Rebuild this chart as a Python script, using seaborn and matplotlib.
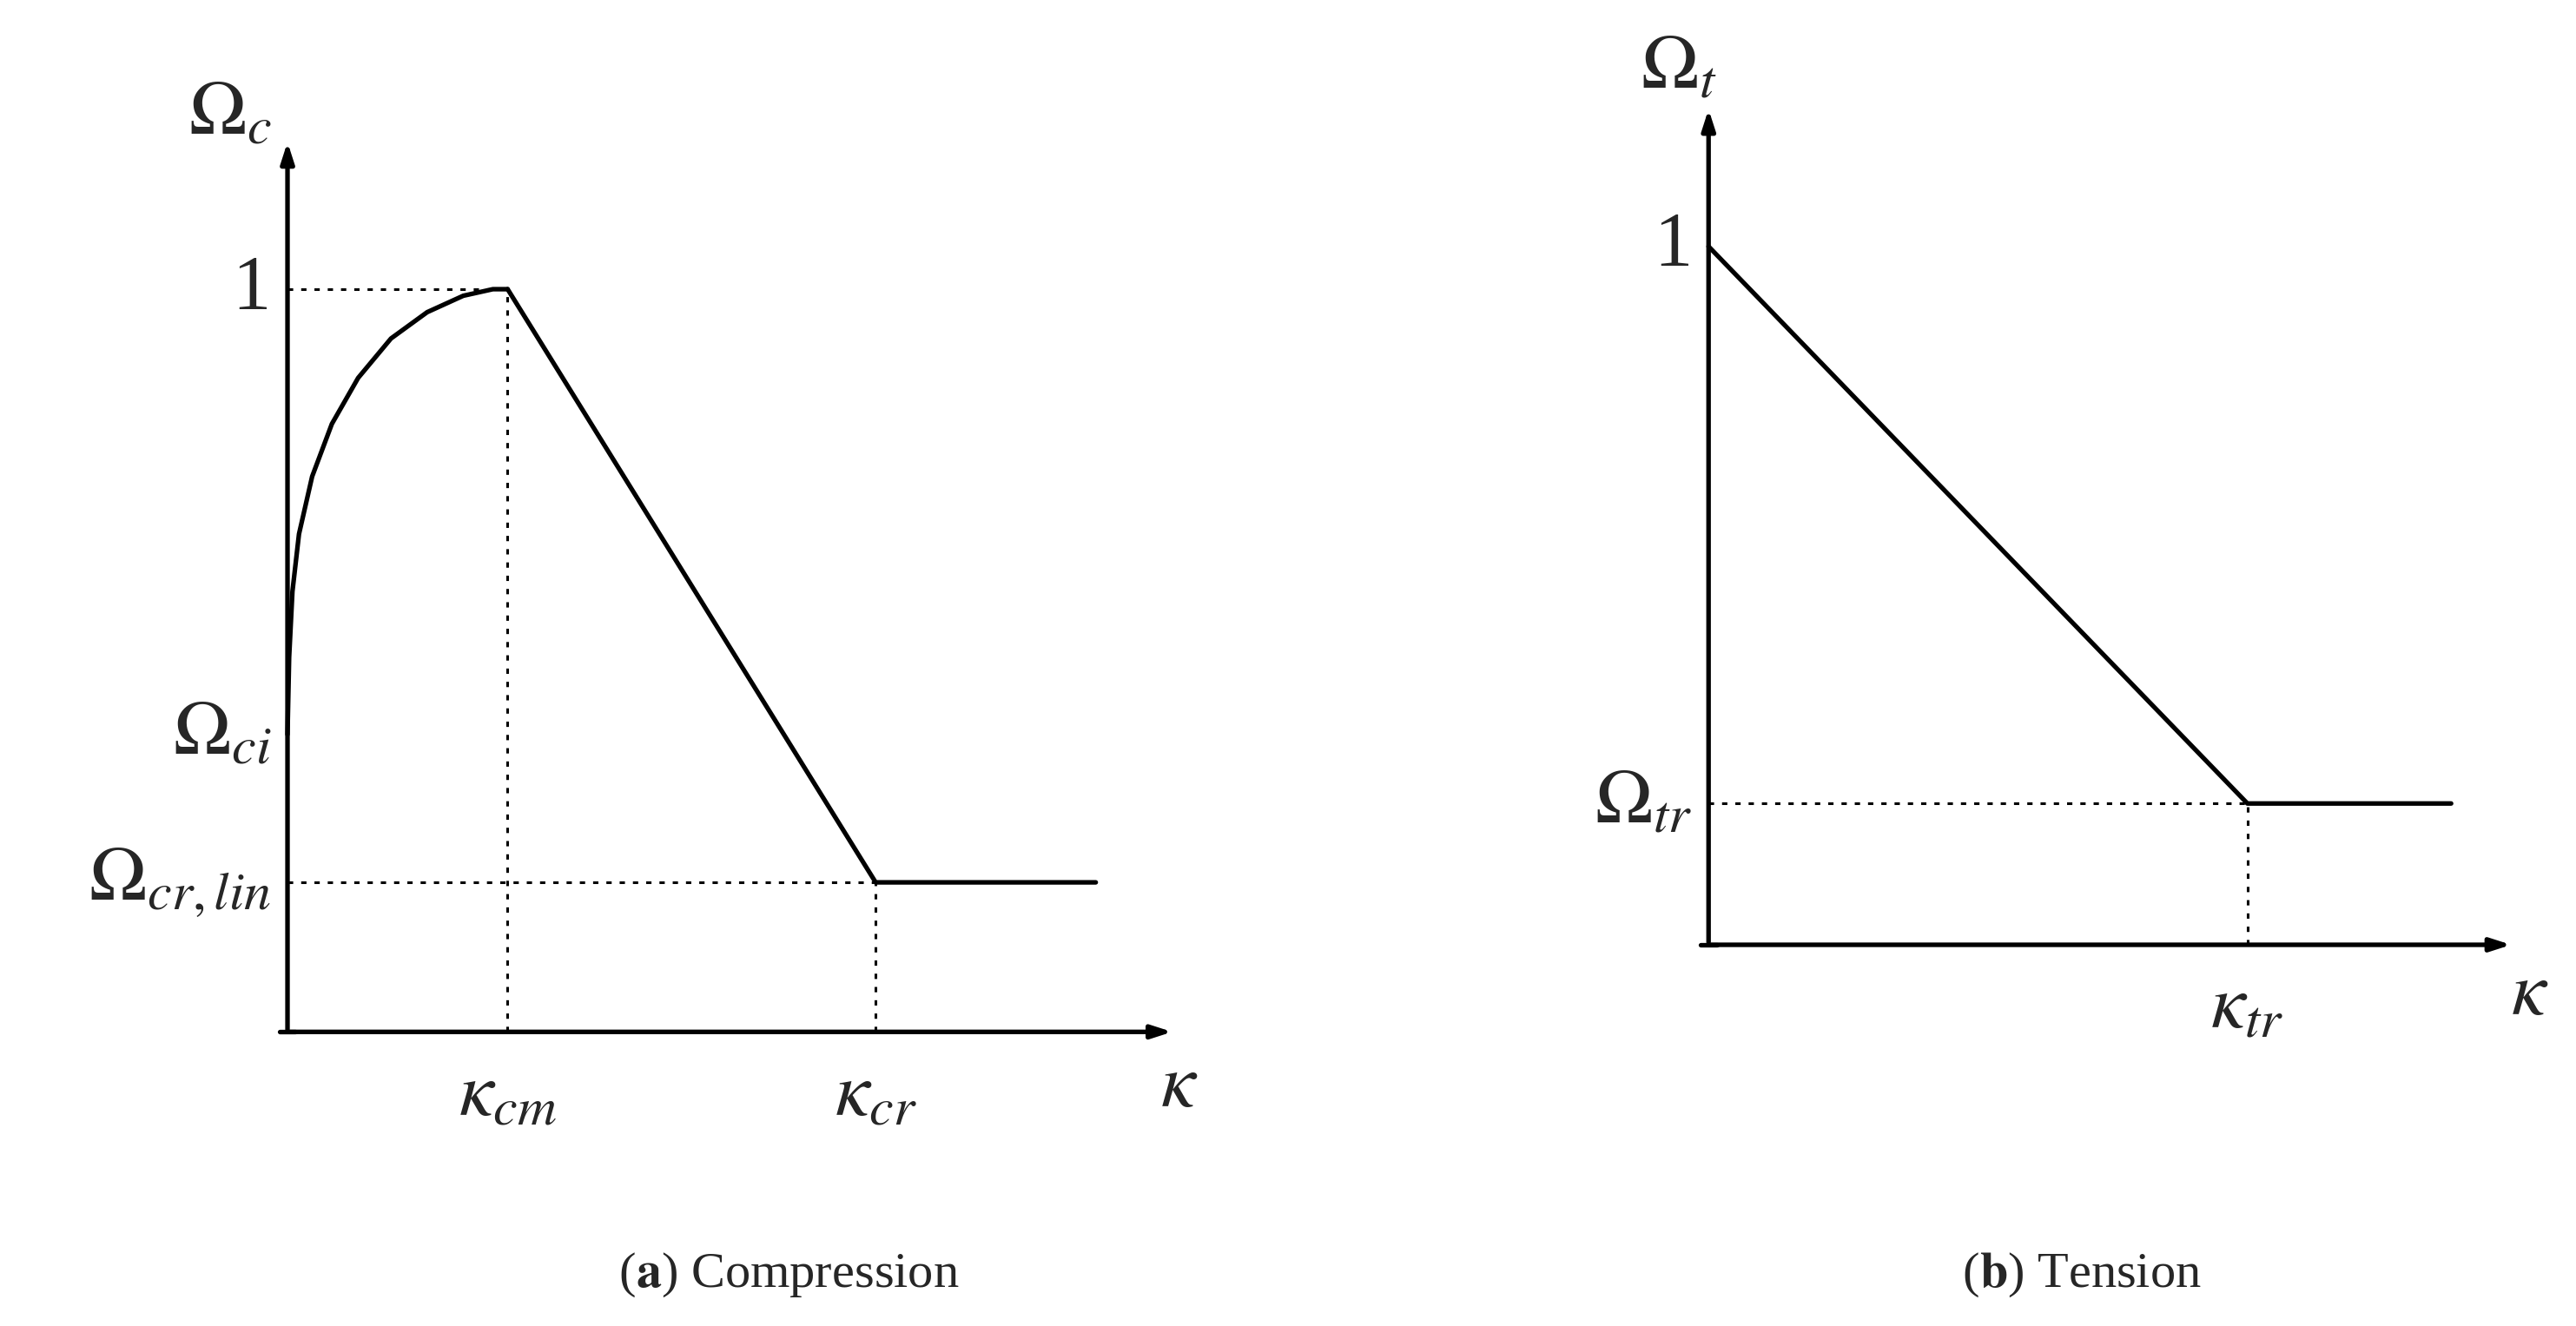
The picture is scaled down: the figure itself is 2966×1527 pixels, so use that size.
import matplotlib
matplotlib.use("Agg")
import matplotlib.pyplot as plt
import seaborn as sns

sns.set_style("white")
plt.rcParams["mathtext.fontset"] = "stix"
plt.rcParams["font.family"] = ["Liberation Serif", "DejaVu Serif"]

# coordinates in reference-image units (1568 x 807 canvas, y grows downward)
# --- panel a: compression ---
a_origin = (175, 628)
a_xend, a_ytop = 715, 85
a_curve_x = [175, 176, 178, 182, 190, 202, 218, 238, 260, 282, 300, 309]
a_curve_y = [447, 400, 360, 325, 290, 258, 230, 206, 190, 180, 176, 176]
a_line_x = [309, 533, 667]
a_line_y = [176, 537, 537]
a_levels = {"1": 176, r"$\Omega_{ci}$": 447, r"$\Omega_{cr,lin}$": 537}
a_kappas = {r"$\kappa_{cm}$": 309, r"$\kappa_{cr}$": 533}

# --- panel b: tension ---
b_origin = (1040, 575)
b_xend, b_ytop = 1530, 65
b_line_x = [1040, 1368, 1492]
b_line_y = [150, 489, 489]
b_levels = {"1": 150, r"$\Omega_{tr}$": 489}
b_kappas = {r"$\kappa_{tr}$": 1368}

fig = plt.figure(figsize=(29.66, 15.27), dpi=100)
ax = fig.add_axes([0, 0, 1, 1])
ax.set_xlim(0, 1568)
ax.set_ylim(807, 0)
ax.axis("off")

lw = 3.8
fs = 64


def axes_arrows(origin, xend, ytop):
    ox, oy = origin
    arr = dict(arrowstyle="-|>,head_length=1.4,head_width=0.45", color="black", lw=lw)
    ax.annotate("", xy=(xend, oy), xytext=(ox, oy), arrowprops=arr)
    ax.annotate("", xy=(ox, ytop), xytext=(ox, oy), arrowprops=arr)
    ax.plot([ox - 5, ox + 5], [oy, oy], color="black", lw=lw)


def guides(origin, levels, kappas, xs, ys):
    ox, oy = origin
    for lab, y in levels.items():
        ax.text(ox - 10, y, lab, ha="right", va="center", fontsize=fs)
    for lab, x in kappas.items():
        ax.text(x, oy + 18, lab, ha="center", va="top", fontsize=fs)
        ax.plot([x, x], [oy, ys[xs.index(x)]], ls=(0, (2, 3)), color="black", lw=2.2)
    for y in levels.values():
        xr = [x for x, yy in zip(xs, ys) if yy == y]
        if xr and xr[0] != ox:
            ax.plot([ox, xr[0]], [y, y], ls=(0, (2, 3)), color="black", lw=2.2)


axes_arrows(a_origin, a_xend, a_ytop)
sns.lineplot(x=a_curve_x, y=a_curve_y, ax=ax, color="black", lw=lw, sort=False)
sns.lineplot(x=a_line_x, y=a_line_y, ax=ax, color="black", lw=lw, sort=False)
guides(a_origin, a_levels, a_kappas, a_line_x, a_line_y)
ax.text(140, 70, r"$\Omega_c$", ha="center", va="center", fontsize=fs)
ax.text(718, 662, r"$\kappa$", ha="center", va="center", fontsize=fs)

axes_arrows(b_origin, b_xend, b_ytop)
sns.lineplot(x=b_line_x, y=b_line_y, ax=ax, color="black", lw=lw, sort=False)
guides(b_origin, b_levels, b_kappas, b_line_x, b_line_y)
ax.text(1022, 42, r"$\Omega_t$", ha="center", va="center", fontsize=fs)
ax.text(1540, 606, r"$\kappa$", ha="center", va="center", fontsize=fs)

cap = 42
ax.text(387, 776, "(", ha="right", va="center", fontsize=cap)
ax.text(387, 776, r"$\mathbf{a}$) Compression", ha="left", va="center", fontsize=cap)
ax.text(1205, 776, "(", ha="right", va="center", fontsize=cap)
ax.text(1205, 776, r"$\mathbf{b}$) Tension", ha="left", va="center", fontsize=cap)

fig.savefig("out.png", dpi=100)
